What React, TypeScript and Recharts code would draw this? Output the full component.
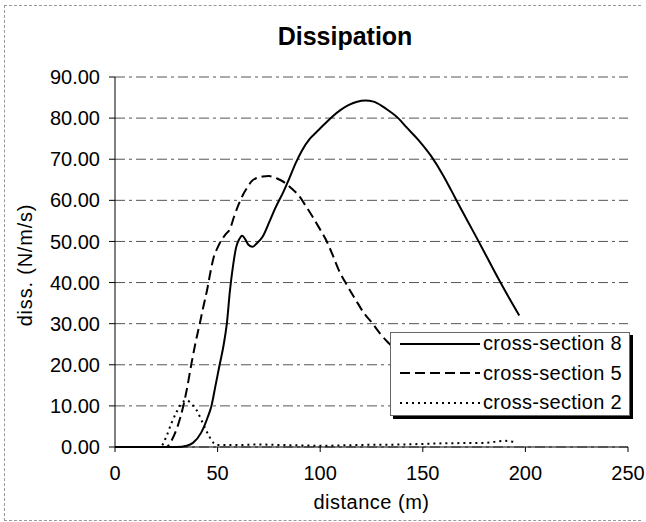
import { LineChart, Line, XAxis, YAxis, CartesianGrid, Legend } from "recharts";

const xTicks = [0, 50, 100, 150, 200, 250];
const yTicks = [0, 10, 20, 30, 40, 50, 60, 70, 80, 90];

// cross-section 8 (solid)
const cs8Dist = [0, 30, 35, 38, 42, 45, 47, 49, 51, 53, 54.5, 56, 57.5, 59, 60.5, 62, 63.5, 65, 67, 69, 72, 75, 78, 82, 85, 88, 91, 95, 98, 102, 106, 110, 114, 118, 122, 126, 130, 134, 138, 142, 148, 154, 160, 164, 168, 172, 177, 182, 187, 192, 197];
const cs8Diss = [0, 0, 0.3, 1, 3.5, 7, 10, 15, 20, 25, 30, 38, 44, 48.5, 50.5, 51.4, 50.5, 49.2, 48.7, 49.5, 51.2, 54.5, 58, 62, 65.4, 69, 72, 75, 76.5, 78.5, 80.4, 82, 83.2, 84, 84.3, 84, 83, 81.6, 80, 77.8, 74.6, 70.8, 66, 62.3, 58.5, 54.8, 50.2, 45.5, 40.8, 36.3, 32];

// cross-section 5 (dashed)
const cs5Dist = [0, 25, 28, 30.5, 33.2, 35, 37.3, 39.3, 41.3, 43, 45, 46.5, 48, 50, 52, 54, 56, 58, 60.5, 62.5, 64.7, 66.5, 68.8, 72, 75, 79, 83, 86.5, 90, 93, 96.3, 99.5, 102.8, 106, 109, 113, 117.3, 121, 125.4, 129, 133.5, 140, 150, 160];
const cs5Diss = [0, 0, 2, 5, 9.8, 14, 20.4, 25.5, 30, 34, 38.5, 42.5, 46, 48.5, 50.4, 51.8, 53, 56, 59.3, 61.5, 63.3, 64.6, 65.4, 65.8, 65.9, 65.3, 64.2, 62.7, 60.9, 58.6, 56, 53.3, 50.4, 46.8, 43.1, 39.4, 35.8, 32.8, 30.1, 27.7, 25.2, 22, 17, 13];

// cross-section 2 (dotted)
const cs2Dist = [0, 22, 25, 27.5, 30, 32.4, 35, 37, 39.7, 42.8, 45.5, 48, 50, 60, 70, 80, 90, 100, 120, 140, 160, 180, 190, 195];
const cs2Diss = [0, 0, 2.5, 5.8, 8.5, 10.6, 11.4, 10.6, 9, 5.8, 3, 1, 0.5, 0.5, 0.6, 0.5, 0.4, 0.3, 0.5, 0.6, 0.9, 1, 1.5, 1.2];

const seriesNames = ["cross-section 8", "cross-section 5", "cross-section 2"];

const toPoints = (dist: number[], diss: number[]) => dist.map((d, i) => ({ d, v: diss[i] }));

const series = [
  { name: seriesNames[0], data: toPoints(cs8Dist, cs8Diss), dash: undefined as string | undefined },
  { name: seriesNames[1], data: toPoints(cs5Dist, cs5Diss), dash: "10 5" },
  { name: seriesNames[2], data: toPoints(cs2Dist, cs2Diss), dash: "2 4" },
];

const font = "'Liberation Sans', Arial, sans-serif";

function LegendBox() {
  return (
    <div
      style={{
        position: "relative",
        width: 240,
        height: 84,
        boxSizing: "border-box",
        background: "#fff",
        border: "1px solid #666",
        boxShadow: "3px 3px 0 #000",
        fontFamily: font,
        fontSize: 20,
        letterSpacing: 0.3,
        color: "#000",
      }}
    >
      {series.map((s, i) => (
        <div
          key={s.name}
          style={{ position: "absolute", left: 0, top: i * 29.5 - 4, height: 29.5, display: "flex", alignItems: "center" }}
        >
          <svg width={92} height={10} style={{ flex: "none" }}>
            <line x1={9} y1={5} x2={89} y2={5} stroke="#000" strokeWidth={2} strokeDasharray={s.dash} />
          </svg>
          <span style={{ whiteSpace: "nowrap" }}>{s.name}</span>
        </div>
      ))}
    </div>
  );
}

export default function App() {
  return (
    <div style={{ position: "absolute", left: 0, top: 0, width: 646, height: 522, background: "#fff", fontFamily: font }}>
      <div
        style={{
          position: "absolute",
          left: 4,
          top: 5,
          width: 636,
          height: 514,
          border: "1px dashed #999",
          borderRight: "none",
        }}
      />
      <div
        style={{
          position: "absolute",
          left: 245,
          width: 200,
          top: 22,
          textAlign: "center",
          fontSize: 25,
          fontWeight: "bold",
        }}
      >
        Dissipation
      </div>
      <LineChart width={646} height={522} margin={{ top: 77, right: 18, bottom: 0, left: 0 }}>
        <CartesianGrid horizontal vertical={false} stroke="#555" strokeDasharray="10 4 3 4" />
        <XAxis
          type="number"
          dataKey="d"
          domain={[0, 250]}
          ticks={xTicks}
          height={75}
          tickSize={5}
          tickMargin={14}
          stroke="#000"
          tick={{ fill: "#000", fontSize: 20, fontFamily: font }}
          label={{ value: "distance (m)", position: "insideBottom", offset: 13, fill: "#000", fontSize: 20, fontFamily: font, letterSpacing: 0.5 }}
        />
        <YAxis
          type="number"
          domain={[0, 90]}
          ticks={yTicks}
          width={115}
          tickSize={6}
          tickMargin={9}
          stroke="#000"
          tick={{ fill: "#000", fontSize: 20, fontFamily: font }}
          tickFormatter={(v: number) => v.toFixed(2)}
          label={{
            content: () => (
              <text
                x={25}
                y={265}
                transform="rotate(-90 25 265)"
                textAnchor="middle"
                dominantBaseline="central"
                fill="#000"
                fontSize={20}
                letterSpacing={0.8}
                fontFamily={font}
              >
                diss. (N/m/s)
              </text>
            ),
          }}
        />
        {series.map((s) => (
          <Line
            key={s.name}
            data={s.data}
            dataKey="v"
            name={s.name}
            type="monotone"
            stroke="#000"
            strokeWidth={2}
            strokeDasharray={s.dash}
            dot={false}
            activeDot={false}
            isAnimationActive={false}
          />
        ))}
        <Legend
          layout="vertical"
          align="center"
          verticalAlign="middle"
          content={() => <LegendBox />}
          wrapperStyle={{ left: 390, top: 332, width: 240, height: 84 }}
        />
      </LineChart>
    </div>
  );
}
